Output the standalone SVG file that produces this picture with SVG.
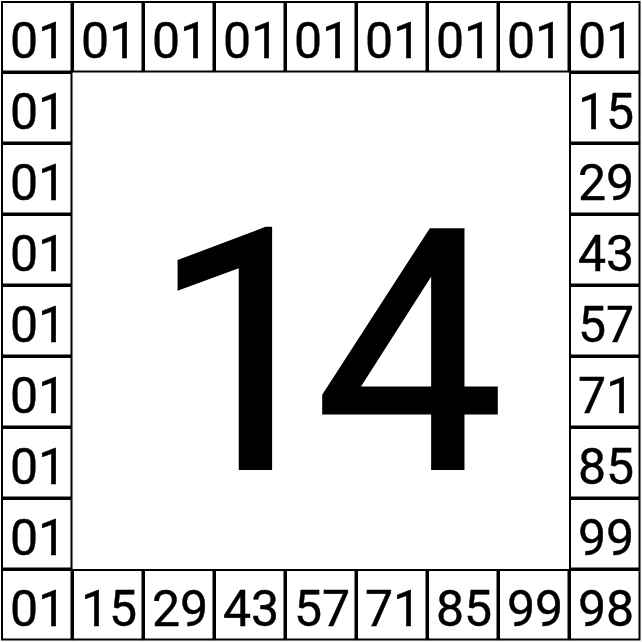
<svg xmlns="http://www.w3.org/2000/svg" width="642" height="642" viewBox="0 0 642 642">
<style>
.cell rect{fill:#fff;stroke:#000;stroke-width:2}
.cell text{font-family:Roboto,"Liberation Sans",sans-serif;font-size:50px;fill:#000;text-anchor:middle;stroke:#000;stroke-width:0.4}
.big{font-family:Roboto,"Liberation Sans",sans-serif;font-size:336px;fill:#000;stroke:#000;stroke-width:3}
</style>
<rect width="642" height="642" fill="#fff"/>
<g id="center"><text class="big" x="151 315" y="468.5">14</text></g>
<g id="cells">
<g id="c0-0" class="cell"><rect x="2" y="2" width="69.5" height="69.5"/><text x="38" y="57.5">01</text></g>
<g id="c1-0" class="cell"><rect x="73" y="2" width="69.5" height="69.5"/><text x="109" y="57.5">01</text></g>
<g id="c2-0" class="cell"><rect x="144" y="2" width="69.5" height="69.5"/><text x="180" y="57.5">01</text></g>
<g id="c3-0" class="cell"><rect x="215" y="2" width="69.5" height="69.5"/><text x="251" y="57.5">01</text></g>
<g id="c4-0" class="cell"><rect x="286" y="2" width="69.5" height="69.5"/><text x="322" y="57.5">01</text></g>
<g id="c5-0" class="cell"><rect x="357" y="2" width="69.5" height="69.5"/><text x="393" y="57.5">01</text></g>
<g id="c6-0" class="cell"><rect x="428" y="2" width="69.5" height="69.5"/><text x="464" y="57.5">01</text></g>
<g id="c7-0" class="cell"><rect x="499" y="2" width="69.5" height="69.5"/><text x="535" y="57.5">01</text></g>
<g id="c8-0" class="cell"><rect x="570" y="2" width="69.5" height="69.5"/><text x="606" y="57.5">01</text></g>

<g id="c0-1" class="cell"><rect x="2" y="73" width="69.5" height="69.5"/><text x="38" y="128.5">01</text></g>
<g id="c0-2" class="cell"><rect x="2" y="144" width="69.5" height="69.5"/><text x="38" y="199.5">01</text></g>
<g id="c0-3" class="cell"><rect x="2" y="215" width="69.5" height="69.5"/><text x="38" y="270.5">01</text></g>
<g id="c0-4" class="cell"><rect x="2" y="286" width="69.5" height="69.5"/><text x="38" y="341.5">01</text></g>
<g id="c0-5" class="cell"><rect x="2" y="357" width="69.5" height="69.5"/><text x="38" y="412.5">01</text></g>
<g id="c0-6" class="cell"><rect x="2" y="428" width="69.5" height="69.5"/><text x="38" y="483.5">01</text></g>
<g id="c0-7" class="cell"><rect x="2" y="499" width="69.5" height="69.5"/><text x="38" y="554.5">01</text></g>
<g id="c0-8" class="cell"><rect x="2" y="570" width="69.5" height="69.5"/><text x="38" y="625.5">01</text></g>

<g id="c8-1" class="cell"><rect x="570" y="73" width="69.5" height="69.5"/><text x="606" y="128.5">15</text></g>
<g id="c8-2" class="cell"><rect x="570" y="144" width="69.5" height="69.5"/><text x="606" y="199.5">29</text></g>
<g id="c8-3" class="cell"><rect x="570" y="215" width="69.5" height="69.5"/><text x="606" y="270.5">43</text></g>
<g id="c8-4" class="cell"><rect x="570" y="286" width="69.5" height="69.5"/><text x="606" y="341.5">57</text></g>
<g id="c8-5" class="cell"><rect x="570" y="357" width="69.5" height="69.5"/><text x="606" y="412.5">71</text></g>
<g id="c8-6" class="cell"><rect x="570" y="428" width="69.5" height="69.5"/><text x="606" y="483.5">85</text></g>
<g id="c8-7" class="cell"><rect x="570" y="499" width="69.5" height="69.5"/><text x="606" y="554.5">99</text></g>
<g id="c8-8" class="cell"><rect x="570" y="570" width="69.5" height="69.5"/><text x="606" y="625.5">98</text></g>

<g id="c1-8" class="cell"><rect x="73" y="570" width="69.5" height="69.5"/><text x="109" y="625.5">15</text></g>
<g id="c2-8" class="cell"><rect x="144" y="570" width="69.5" height="69.5"/><text x="180" y="625.5">29</text></g>
<g id="c3-8" class="cell"><rect x="215" y="570" width="69.5" height="69.5"/><text x="251" y="625.5">43</text></g>
<g id="c4-8" class="cell"><rect x="286" y="570" width="69.5" height="69.5"/><text x="322" y="625.5">57</text></g>
<g id="c5-8" class="cell"><rect x="357" y="570" width="69.5" height="69.5"/><text x="393" y="625.5">71</text></g>
<g id="c6-8" class="cell"><rect x="428" y="570" width="69.5" height="69.5"/><text x="464" y="625.5">85</text></g>
<g id="c7-8" class="cell"><rect x="499" y="570" width="69.5" height="69.5"/><text x="535" y="625.5">99</text></g>
</g>
<g id="connectors"/>
</svg>
